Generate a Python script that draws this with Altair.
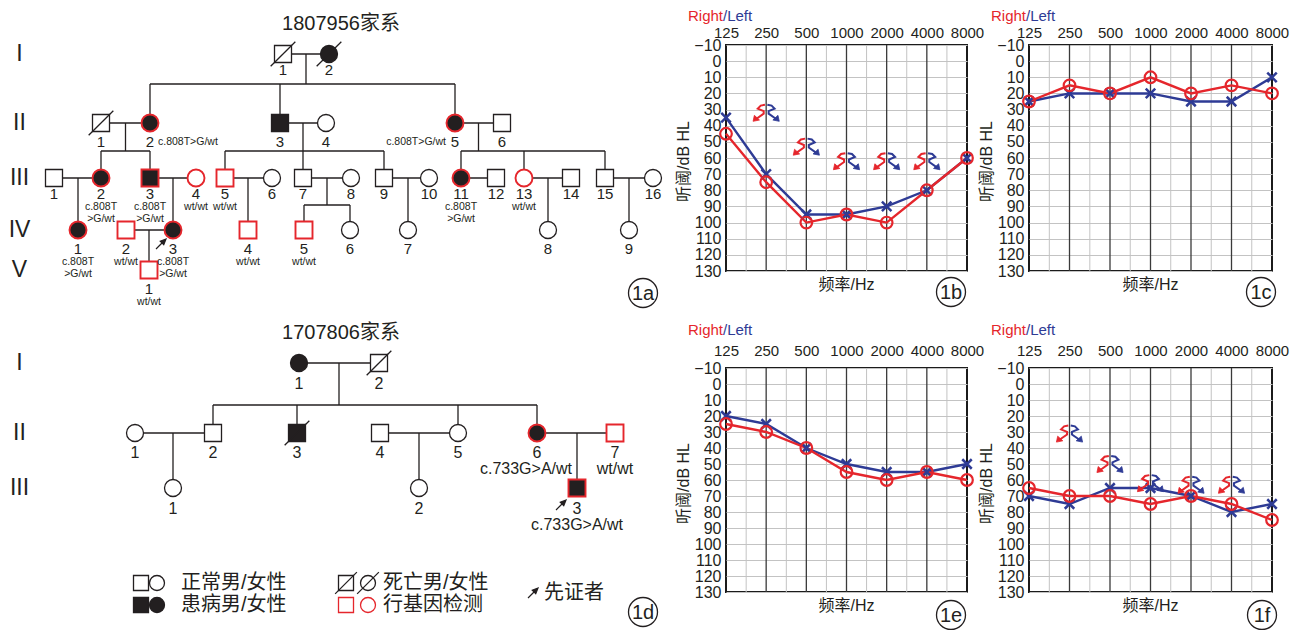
import altair as alt
import pandas as pd

INK = "#231f20"
RED = "#e5262c"
BLUE = "#2e3b95"
GRID = "#c3c3c3"
MAJOR = "#3a3a3a"
WHITE = "#ffffff"
LATIN = "Liberation Sans, Arial, Helvetica, sans-serif"
CJK = "Liberation Sans, Noto Sans CJK SC, sans-serif"

# ======================= audiogram data =======================
FREQS = [125, 250, 500, 1000, 2000, 4000, 8000]
MAJOR_FREQS = [250, 500, 1000, 2000, 4000]
HALF_OCTAVE_FREQS = [177, 354, 707, 1414, 2828, 5657]
DB_TICKS = [-10, 0, 10, 20, 30, 40, 50, 60, 70, 80, 90, 100, 110, 120, 130]

B_RIGHT = [45, 75, 100, 95, 100, 80, 60]
B_LEFT = [35, 70, 95, 95, 90, 80, 60]
C_RIGHT = [25, 15, 20, 10, 20, 15, 20]
C_LEFT = [25, 20, 20, 20, 25, 25, 10]
E_RIGHT = [25, 30, 40, 55, 60, 55, 60]
E_LEFT = [20, 25, 40, 50, 55, 55, 50]
F_RIGHT = [65, 70, 70, 75, 70, 75, 85]
F_LEFT = [70, 75, 65, 65, 70, 80, 75]

B_NR_FREQS = [250, 500, 1000, 2000, 4000]
B_NR_DB = [32, 53, 62, 62, 62]
F_NR_FREQS = [250, 500, 1000, 2000, 4000]
F_NR_DB = [31, 50, 62, 63, 63]

# ======================= pedigree 1807956 =======================
A_TITLE = "1807956家系"
A_GENS = ["I", "II", "III", "IV", "V"]
A_IDS = ["I-1", "I-2",
         "II-1", "II-2", "II-3", "II-4", "II-5", "II-6",
         "III-1", "III-2", "III-3", "III-4", "III-5", "III-6", "III-7", "III-8",
         "III-9", "III-10", "III-11", "III-12", "III-13", "III-14", "III-15", "III-16",
         "IV-1", "IV-2", "IV-3", "IV-4", "IV-5", "IV-6", "IV-7", "IV-8", "IV-9",
         "V-1"]
A_SEX = list("MF" + "MFMFFM" + "MFMFMFMFMFFMFMMF" + "FMFMMFFFF" + "M")
A_AFFECTED = ["I-2", "II-2", "II-3", "II-5", "III-2", "III-3", "III-11", "IV-1", "IV-3"]
A_DECEASED = ["I-1", "I-2", "II-1"]
A_TESTED = ["II-2", "II-5", "III-2", "III-3", "III-4", "III-5", "III-11", "III-13",
            "IV-1", "IV-2", "IV-3", "IV-4", "IV-5", "V-1"]
A_COUPLES = [("I-1", "I-2", ["II-2", "II-3", "II-5"]),
             ("II-1", "II-2", ["III-2", "III-3"]),
             ("II-3", "II-4", ["III-5", "III-7", "III-9"]),
             ("II-5", "II-6", ["III-11", "III-13", "III-15"]),
             ("III-1", "III-2", ["IV-1"]),
             ("III-3", "III-4", ["IV-3"]),
             ("III-5", "III-6", ["IV-4"]),
             ("III-7", "III-8", ["IV-5", "IV-6"]),
             ("III-9", "III-10", ["IV-7"]),
             ("III-11", "III-12", []),
             ("III-13", "III-14", ["IV-8"]),
             ("III-15", "III-16", ["IV-9"]),
             ("IV-2", "IV-3", ["V-1"])]
A_GENO = {"II-2": "c.808T>G/wt", "II-5": "c.808T>G/wt",
          "III-2": "c.808T\n>G/wt", "III-3": "c.808T\n>G/wt", "III-4": "wt/wt",
          "III-5": "wt/wt", "III-11": "c.808T\n>G/wt", "III-13": "wt/wt",
          "IV-1": "c.808T\n>G/wt", "IV-2": "wt/wt", "IV-3": "c.808T\n>G/wt",
          "IV-4": "wt/wt", "IV-5": "wt/wt", "V-1": "wt/wt"}
A_PROBAND = "IV-3"

# layout of pedigree 1807956 (reference pixel grid)
A_X = {"I-1": 282, "I-2": 328, "II-1": 100, "II-2": 149, "II-3": 279, "II-4": 325,
       "II-5": 454, "II-6": 501, "III-1": 53, "III-2": 100, "III-3": 149, "III-4": 195,
       "III-5": 224, "III-6": 271, "III-7": 302, "III-8": 350, "III-9": 383, "III-10": 428,
       "III-11": 460, "III-12": 495, "III-13": 523, "III-14": 570, "III-15": 604,
       "III-16": 652, "IV-1": 77, "IV-2": 125, "IV-3": 172, "IV-4": 247, "IV-5": 303,
       "IV-6": 349, "IV-7": 407, "IV-8": 547, "IV-9": 628, "V-1": 148}
A_GEN_Y = {"I": 47, "II": 116, "III": 171, "IV": 223, "V": 263}
A_NUM_DY = {"I": 16, "II": 19, "III": 16, "IV": 19, "V": 19}
A_SIB_Y = {"I": 77, "II": 144, "III": 198}
A_GENO_PLACE = {"II-2": "right", "II-5": "left"}

# ======================= pedigree 1707806 =======================
D_TITLE = "1707806家系"
D_GENS = ["I", "II", "III"]
D_IDS = ["I-1", "I-2", "II-1", "II-2", "II-3", "II-4", "II-5", "II-6", "II-7",
         "III-1", "III-2", "III-3"]
D_SEX = list("FM" + "FMMMFFM" + "FFM")
D_AFFECTED = ["I-1", "II-3", "II-6", "III-3"]
D_DECEASED = ["I-2", "II-3"]
D_TESTED = ["II-6", "II-7", "III-3"]
D_COUPLES = [("I-1", "I-2", ["II-2", "II-3", "II-5", "II-6"]),
             ("II-1", "II-2", ["III-1"]),
             ("II-4", "II-5", ["III-2"]),
             ("II-6", "II-7", ["III-3"])]
D_GENO = {"II-6": "c.733G>A/wt", "II-7": "wt/wt", "III-3": "c.733G>A/wt"}
D_PROBAND = "III-3"

D_X = {"I-1": 298, "I-2": 378, "II-1": 134, "II-2": 212, "II-3": 296, "II-4": 379,
       "II-5": 457, "II-6": 536, "II-7": 614, "III-1": 172, "III-2": 418, "III-3": 576}
D_GEN_Y = {"I": 363, "II": 433, "III": 488}
D_NUM_DY = {"I": 21, "II": 20, "III": 21}
D_SIB_Y = {"I": 405}
D_GENO_PLACE = {"II-6": "belowleft"}

# legend of the pedigrees
LEG_LABELS = ["正常男/女性", "患病男/女性", "死亡男/女性", "行基因检测", "先证者"]
LEG_SHAPE = ["square", "circle", "square", "circle", "square", "circle", "square", "circle"]
LEG_FILL = [WHITE, WHITE, INK, INK, WHITE, WHITE, WHITE, WHITE]
LEG_STROKE = [INK, INK, INK, INK, INK, INK, RED, RED]
LEG_DEAD = [0, 0, 0, 0, 1, 1, 0, 0]
LEG_SYM_X = [140, 156, 140, 156, 345, 367, 345, 367]
LEG_SYM_Y = [583, 583, 605, 605, 583, 583, 605, 605]
LEG_TXT_X = [180, 180, 382, 382, 543]
LEG_TXT_Y = [583, 605, 583, 605, 593]
LEG_ARROW = (532, 593)

# ======================= symbol paths =======================
X_PATH = "M-1,-1L1,1M-1,1L1,-1"
NR_RIGHT_BODY = "M0.45,-0.95L-0.05,-0.85L-0.4,-0.5L0.3,-0.2L0.3,0.1L-0.55,0.7"
NR_RIGHT_HEAD = "M-0.95,1L-0.8,0.3L-0.2,0.85Z"
NR_LEFT_BODY = "M-0.45,-0.95L0.05,-0.85L0.4,-0.5L-0.3,-0.2L-0.3,0.1L0.55,0.7"
NR_LEFT_HEAD = "M0.95,1L0.8,0.3L0.2,0.85Z"
SLASH_PATH = "M-1.45,1.45L1.45,-1.45"
ARROW_PATH = "M-1,1L0.2,-0.2M1,-1L-0.15,-0.55L0.55,0.15Z"

PED_W = 655


def audiogram(right, left, nr_f, nr_db, tag, w, h, lab_pad, rl_y, tag_x, tag_y):
    xs = alt.Scale(type="log", base=2, domain=[125, 8000], nice=False)
    ys = alt.Scale(domain=[-10, 130], reverse=True, nice=False, zero=False)
    xaxis = alt.Axis(orient="top", values=FREQS, format="d", labelFont=LATIN,
                     labelFontSize=15, labelColor=INK, labelPadding=lab_pad,
                     labelFlush=False, labelOverlap=False, ticks=False, domain=False,
                     grid=False, title=None)
    yaxis = alt.Axis(orient="left", values=DB_TICKS, labelFont=LATIN, labelFontSize=16,
                     labelColor=INK, labelPadding=5, labelFlush=False, labelOverlap=False,
                     ticks=False, domain=False, grid=True, gridColor=GRID, gridWidth=1,
                     title="听阈/dB HL", titleFont=CJK, titleFontSize=16,
                     titleFontWeight="normal", titleColor=INK, titleX=-43, titleY=h / 2 + 3,
                     titleAngle=270, titleAlign="center", titleBaseline="middle")

    def X(f):
        return alt.X(f"{f}:Q", scale=xs, axis=xaxis)

    def Y(f):
        return alt.Y(f"{f}:Q", scale=ys, axis=yaxis)

    minor = alt.Chart(pd.DataFrame({"f": HALF_OCTAVE_FREQS})).mark_rule(
        color=GRID, strokeWidth=1).encode(x=X("f"))
    major = alt.Chart(pd.DataFrame({"f": MAJOR_FREQS})).mark_rule(
        color=MAJOR, strokeWidth=1.3).encode(x=X("f"))
    rdf = pd.DataFrame({"freq": FREQS, "db": right})
    ldf = pd.DataFrame({"freq": FREQS, "db": left})
    lline = alt.Chart(ldf).mark_line(color=BLUE, strokeWidth=2.4).encode(x=X("freq"), y=Y("db"))
    rline = alt.Chart(rdf).mark_line(color=RED, strokeWidth=2.4).encode(x=X("freq"), y=Y("db"))
    lpts = alt.Chart(ldf).mark_point(shape=X_PATH, filled=False, size=90, strokeWidth=2.5,
                                     color=BLUE, opacity=1).encode(x=X("freq"), y=Y("db"))
    rpts = alt.Chart(rdf).mark_point(shape="circle", filled=False, size=135, strokeWidth=2.2,
                                     color=RED, opacity=1).encode(x=X("freq"), y=Y("db"))
    layers = [minor, major, lline, rline, lpts, rpts]
    if nr_f:
        ndf = pd.DataFrame({"freq": nr_f, "db": nr_db})
        for path, head, col, off in [(NR_RIGHT_BODY, NR_RIGHT_HEAD, RED, -5),
                                     (NR_LEFT_BODY, NR_LEFT_HEAD, BLUE, 5)]:
            layers.append(alt.Chart(ndf).mark_point(
                shape=path, filled=False, size=289, strokeWidth=2, color=col,
                opacity=1, xOffset=off).encode(x=X("freq"), y=Y("db")))
            layers.append(alt.Chart(ndf).mark_point(
                shape=head, filled=True, size=289, strokeWidth=0.8, fill=col, stroke=col,
                opacity=1, xOffset=off).encode(x=X("freq"), y=Y("db")))

    layers.append(alt.Chart(pd.DataFrame({"t": ["Right"]})).mark_text(
        font=LATIN, fontSize=15, color=RED, align="right", baseline="middle").encode(
        x=alt.value(-3), y=alt.value(rl_y), text="t:N"))
    layers.append(alt.Chart(pd.DataFrame({"t": ["/Left"]})).mark_text(
        font=LATIN, fontSize=15, color=BLUE, align="left", baseline="middle").encode(
        x=alt.value(-3), y=alt.value(rl_y), text="t:N"))
    layers.append(alt.Chart(pd.DataFrame({"t": ["频率/Hz"]})).mark_text(
        font=CJK, fontSize=16, color=INK, baseline="middle").encode(
        x=alt.value(w / 2), y=alt.value(h + 14), text="t:N"))
    tdf = pd.DataFrame({"t": [tag]})
    layers.append(alt.Chart(tdf).mark_point(
        shape="circle", size=841, filled=False, color=INK, strokeWidth=1.3, opacity=1).encode(
        x=alt.value(tag_x), y=alt.value(tag_y)))
    layers.append(alt.Chart(tdf).mark_text(
        font=LATIN, fontSize=20, color=INK, baseline="middle").encode(
        x=alt.value(tag_x), y=alt.value(tag_y + 1), text="t:N"))
    return alt.layer(*layers).properties(
        width=w, height=h, view=alt.ViewBackground(stroke="#1b1b1b", strokeWidth=2))


def pedigree(ids, sex, affected, deceased, tested, px, gen_y, num_dy, couples, sib_y,
             geno, geno_place, proband, arrow_off, gens, title, title_xy, tag, tag_xy,
             ydom, h, num_fs, geno_fs, geno_gap, legend=False):
    xs = alt.Scale(domain=[8, 8 + PED_W], nice=False, zero=False)
    ys = alt.Scale(domain=ydom, reverse=True, nice=False, zero=False)

    def pos(**kw):
        return dict(x=alt.X("x:Q", scale=xs, axis=None), y=alt.Y("y:Q", scale=ys, axis=None), **kw)

    rows = []
    for pid, s in zip(ids, sex):
        g, n = pid.split("-")
        rows.append(dict(pid=pid, num=n, gen=g, x=px[pid], y=gen_y[g], ny=gen_y[g] + num_dy[g],
                         shape="square" if s == "M" else "circle",
                         fill=INK if pid in affected else WHITE,
                         stroke=RED if pid in tested else INK,
                         sw=1.9 if pid in tested else 1.3,
                         dead=1 if pid in deceased else 0))
    people = pd.DataFrame(rows)
    P = people.set_index("pid")

    segs = []
    for a, b, kids in couples:
        xa, ya, xb = P.loc[a, "x"], P.loc[a, "y"], P.loc[b, "x"]
        segs.append((xa, ya, xb, ya))
        if not kids:
            continue
        if len(kids) == 1:
            k = kids[0]
            segs.append((P.loc[k, "x"], ya, P.loc[k, "x"], P.loc[k, "y"]))
        else:
            xm = (xa + xb) / 2
            ys_ = sib_y[P.loc[a, "gen"]]
            kx = [P.loc[k, "x"] for k in kids]
            segs.append((xm, ya, xm, ys_))
            segs.append((min(kx + [xm]), ys_, max(kx + [xm]), ys_))
            for k in kids:
                segs.append((P.loc[k, "x"], ys_, P.loc[k, "x"], P.loc[k, "y"]))
    sdf = pd.DataFrame(segs, columns=["x", "y", "x2", "y2"])

    layers = []
    layers.append(alt.Chart(sdf).mark_rule(color=INK, strokeWidth=1.3).encode(
        **pos(x2="x2:Q", y2="y2:Q")))
    layers.append(alt.Chart(people).mark_point(filled=True, size=289, opacity=1).encode(
        **pos(shape=alt.Shape("shape:N", scale=None, legend=None),
              fill=alt.Fill("fill:N", scale=None, legend=None),
              stroke=alt.Stroke("stroke:N", scale=None, legend=None),
              strokeWidth=alt.StrokeWidth("sw:Q", scale=None, legend=None))))
    dead = people[people["dead"] == 1]
    layers.append(alt.Chart(dead).mark_point(shape=SLASH_PATH, filled=False, size=289,
                                             color=INK, strokeWidth=1.3, opacity=1).encode(**pos()))
    nums = people.assign(y=people["ny"])
    layers.append(alt.Chart(nums).mark_text(font=LATIN, fontSize=num_fs, color=INK,
                                            baseline="middle").encode(**pos(text="num:N")))

    grows = []
    for pid, txt in geno.items():
        place = geno_place.get(pid, "below")
        nx, nyy = P.loc[pid, "x"], P.loc[pid, "ny"]
        if place == "right":
            grows.append(dict(t=txt, x=nx + 8, y=nyy, al="left", bl="middle"))
        elif place == "left":
            grows.append(dict(t=txt, x=nx - 9, y=nyy, al="right", bl="middle"))
        elif place == "belowleft":
            grows.append(dict(t=txt, x=nx + 35, y=nyy + geno_gap, al="right", bl="top"))
        else:
            grows.append(dict(t=txt, x=nx, y=nyy + geno_gap, al="center", bl="top"))
    gdf = pd.DataFrame(grows)
    for (al, bl), sub in gdf.groupby(["al", "bl"]):
        layers.append(alt.Chart(sub).mark_text(
            font=LATIN, fontSize=geno_fs, color=INK, align=al, baseline=bl,
            lineBreak="\n", lineHeight=geno_fs + 1.5).encode(**pos(text="t:N")))

    gdf2 = pd.DataFrame({"t": gens, "x": [18.5] * len(gens), "y": [gen_y[g] for g in gens]})
    layers.append(alt.Chart(gdf2).mark_text(font=LATIN, fontSize=23, color=INK,
                                            baseline="middle").encode(**pos(text="t:N")))
    layers.append(alt.Chart(pd.DataFrame({"t": [title], "x": [title_xy[0]], "y": [title_xy[1]]}))
                  .mark_text(font=CJK, fontSize=20, color=INK, baseline="middle")
                  .encode(**pos(text="t:N")))
    adf = pd.DataFrame({"x": [P.loc[proband, "x"] + arrow_off[0]],
                        "y": [P.loc[proband, "y"] + arrow_off[1]]})
    layers.append(alt.Chart(adf).mark_point(shape=ARROW_PATH, filled=True, size=100,
                                            color=INK, stroke=INK, strokeWidth=1.2,
                                            opacity=1).encode(**pos()))
    tdf = pd.DataFrame({"t": [tag], "x": [tag_xy[0]], "y": [tag_xy[1]]})
    layers.append(alt.Chart(tdf).mark_point(shape="circle", size=841, filled=False, color=INK,
                                            strokeWidth=1.3, opacity=1).encode(**pos()))
    layers.append(alt.Chart(tdf.assign(y=tdf["y"] + 1)).mark_text(
        font=LATIN, fontSize=20, color=INK, baseline="middle").encode(**pos(text="t:N")))

    if legend:
        ldf = pd.DataFrame({"x": LEG_SYM_X, "y": LEG_SYM_Y, "shape": LEG_SHAPE,
                            "fill": LEG_FILL, "stroke": LEG_STROKE, "dead": LEG_DEAD})
        layers.append(alt.Chart(ldf).mark_point(filled=True, size=225, opacity=1,
                                                strokeWidth=1.3).encode(
            **pos(shape=alt.Shape("shape:N", scale=None, legend=None),
                  fill=alt.Fill("fill:N", scale=None, legend=None),
                  stroke=alt.Stroke("stroke:N", scale=None, legend=None))))
        layers.append(alt.Chart(ldf[ldf["dead"] == 1]).mark_point(
            shape=SLASH_PATH, filled=False, size=225, color=INK, strokeWidth=1.3,
            opacity=1).encode(**pos()))
        ltx = pd.DataFrame({"t": LEG_LABELS, "x": LEG_TXT_X, "y": LEG_TXT_Y})
        layers.append(alt.Chart(ltx).mark_text(font=CJK, fontSize=20, color=INK, align="left",
                                               baseline="middle").encode(**pos(text="t:N")))
        layers.append(alt.Chart(pd.DataFrame({"x": [LEG_ARROW[0]], "y": [LEG_ARROW[1]]}))
                      .mark_point(shape=ARROW_PATH, filled=True, size=100, color=INK,
                                  stroke=INK, strokeWidth=1.2, opacity=1).encode(**pos()))

    return alt.layer(*layers).properties(width=PED_W, height=h)


ped_a = pedigree(A_IDS, A_SEX, A_AFFECTED, A_DECEASED, A_TESTED, A_X, A_GEN_Y, A_NUM_DY,
                 A_COUPLES, A_SIB_Y, A_GENO, A_GENO_PLACE, A_PROBAND, (-12, 14), A_GENS,
                 A_TITLE, (340, 17), "1a", (642, 286), [38, 264], 226, 15, 10.5, 8)
ped_d = pedigree(D_IDS, D_SEX, D_AFFECTED, D_DECEASED, D_TESTED, D_X, D_GEN_Y, D_NUM_DY,
                 D_COUPLES, D_SIB_Y, D_GENO, D_GENO_PLACE, D_PROBAND, (-16, 17), D_GENS,
                 D_TITLE, (340, 333), "1d", (642, 612), [368, 592], 224, 16, 16, 8,
                 legend=True)

aud_b = audiogram(B_RIGHT, B_LEFT, B_NR_FREQS, B_NR_DB, "1b", 241, 226, 5, -29, 225, 247)
aud_c = audiogram(C_RIGHT, C_LEFT, [], [], "1c", 243, 226, 5, -29, 232, 247)
aud_e = audiogram(E_RIGHT, E_LEFT, [], [], "1e", 241, 224, 10, -38, 225, 247)
aud_f = audiogram(F_RIGHT, F_LEFT, F_NR_FREQS, F_NR_DB, "1f", 243, 224, 10, -38, 233, 247)

chart = alt.concat(ped_a, aud_b, aud_c, ped_d, aud_e, aud_f, columns=3,
                   spacing={"row": 97, "column": 62}, bounds="flush", align="each"
                   ).properties(padding={"left": 0, "top": 0, "right": 0, "bottom": 0}
                   ).configure_view(strokeWidth=0)

chart.save("out.html", embed_options={"renderer": "svg", "actions": False})
